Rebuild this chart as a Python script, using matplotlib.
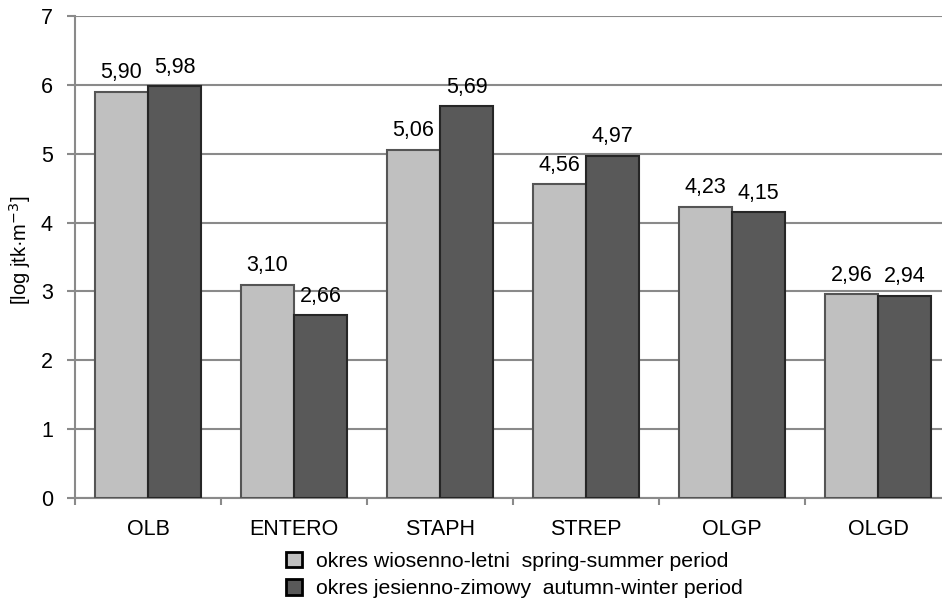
import numpy as np
import matplotlib
matplotlib.use('Agg')
import matplotlib.pyplot as plt

plt.rcParams['font.family'] = ['Liberation Sans', 'DejaVu Sans']

categories = ['OLB', 'ENTERO', 'STAPH', 'STREP', 'OLGP', 'OLGD']
spring = [5.90, 3.10, 5.06, 4.56, 4.23, 2.96]
autumn = [5.98, 2.66, 5.69, 4.97, 4.15, 2.94]
labels = ['okres wiosenno-letni  spring-summer period',
          'okres jesienno-zimowy  autumn-winter period']

fig = plt.figure(figsize=(9.42, 6.02), dpi=100)
ax = fig.add_axes([75/942, 1-498/602, 876/942, (498-16)/602])

x = np.arange(len(categories))
w = 0.365
grid_c = '#8a8a8a'
fs = 15.5

b1 = ax.bar(x - w/2, spring, w, color='#c0c0c0', edgecolor='#555555', linewidth=1.5, zorder=3, label=labels[0])
b2 = ax.bar(x + w/2, autumn, w, color='#595959', edgecolor='#262626', linewidth=1.5, zorder=3, label=labels[1])

for bars, vals in [(b1, spring), (b2, autumn)]:
    for r, v in zip(bars, vals):
        ax.annotate(('%.2f' % v).replace('.', ','), (r.get_x() + r.get_width()/2, v),
                    xytext=(0, 6), textcoords='offset points', ha='center', va='bottom', fontsize=fs)

ax.set_xlim(-0.5, len(categories) - 0.5)
ax.set_ylim(0, 7)
ax.set_yticks(range(8))
ax.yaxis.grid(True, color=grid_c, linewidth=1.5, zorder=0)
ax.set_axisbelow(True)

ax.set_xticks(x)
ax.set_xticklabels(categories, fontsize=fs)
ax.set_xticks(np.arange(-0.5, len(categories)), minor=True)
ax.tick_params(axis='x', which='major', length=0, pad=15)
ax.tick_params(axis='x', which='minor', length=5, width=1.5, color=grid_c, direction='out')
ax.tick_params(axis='y', length=6, width=1.5, color=grid_c, labelsize=fs, pad=10)

for s in ['top', 'right']:
    ax.spines[s].set_visible(False)
for s in ['left', 'bottom']:
    ax.spines[s].set_color(grid_c)
    ax.spines[s].set_linewidth(1.5)

# y label placed in figure coords
fig.text(20/942, 1-250/602, '[log jtk·m$^{-3}$]', rotation=90, ha='center', va='center', fontsize=14.5)

fig.legend(handles=[b1, b2], labels=labels, loc='center left', bbox_to_anchor=(275/942, 1-575/602),
           frameon=False, fontsize=15.3, handlelength=0.75, handleheight=0.75, handletextpad=0.7,
           labelspacing=0.4, borderpad=0)
for h in fig.legends[0].legend_handles:
    h.set_edgecolor('black')
    h.set_linewidth(2)

fig.savefig('out.png', dpi=100)
